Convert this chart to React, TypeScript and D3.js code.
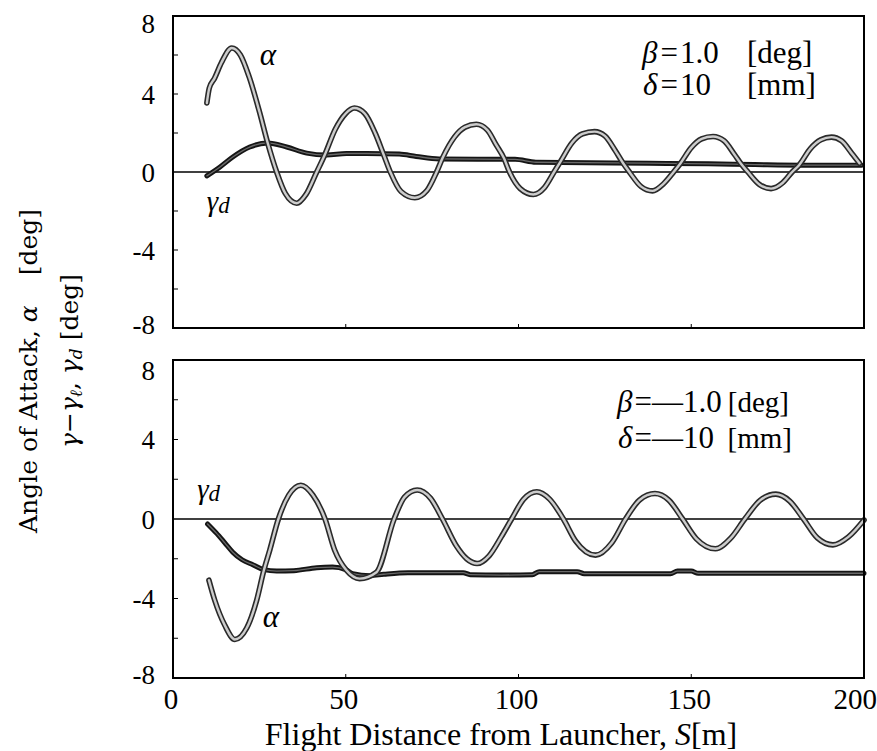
import React from "react";
import * as d3 from "d3";

const xTicks = [0, 50, 100, 150, 200];
const yTicks = [-8, -4, 0, 4, 8];
const yMinor = [-6, -2, 2, 6];
const xMinor = [50, 100, 150];

// top panel: beta = 1.0 deg, delta = 10 mm
const topAlpha: [number, number][] = [
  [9.8, 3.54], [10.5, 4.3], [12, 4.8], [14, 5.6], [17, 6.36], [19.5, 6.0], [22, 4.9], [25, 3.1],
  [27.4, 1.49], [30, 0], [32.5, -1.1], [35.8, -1.6], [38.5, -1.15], [41.6, 0], [43.9, 0.87],
  [47, 2.2], [50, 3.0], [52.5, 3.28], [55.5, 3.0], [58.5, 2.0], [60.9, 0.92], [62.9, 0],
  [66, -1.0], [70, -1.32], [73.5, -0.95], [76.3, 0], [78.1, 0.75], [81.5, 1.8], [84.5, 2.3],
  [87.8, 2.45], [91, 2.15], [93.5, 1.4], [95.8, 0.7], [97.4, 0], [100.5, -0.85], [104.3, -1.15],
  [107.5, -0.8], [110.3, 0], [112.2, 0.55], [115.5, 1.5], [118.5, 1.95], [122, 2.07], [125, 1.85],
  [128, 1.1], [130.1, 0.5], [132.1, 0], [135.5, -0.75], [138.8, -0.97], [142, -0.6], [144.9, 0],
  [146.9, 0.45], [150, 1.25], [153, 1.7], [156.3, 1.82], [159.5, 1.6], [162.5, 0.9], [164.4, 0.42],
  [166.4, 0], [169.8, -0.65], [173.1, -0.85], [176.5, -0.55], [179.2, 0], [181.2, 0.35],
  [184.5, 1.2], [187.5, 1.65], [190.6, 1.79], [193.5, 1.6], [196.5, 0.95], [198.7, 0.45],
];
const topGamma: [number, number][] = [
  [9.8, -0.2], [13.6, 0.26], [17.3, 0.77], [22.2, 1.28], [27.4, 1.49], [32.9, 1.28], [38.7, 0.97],
  [44.4, 0.87], [50.2, 0.95], [56, 0.95], [65.5, 0.92], [70.4, 0.8], [77, 0.67], [99, 0.65],
  [105, 0.5], [137.7, 0.45], [155, 0.42], [168.4, 0.38], [181.9, 0.35], [199.3, 0.35],
];

// bottom panel: beta = -1.0 deg, delta = -10 mm
const botAlpha: [number, number][] = [
  [10.4, -3.08], [12.1, -4.1], [15, -5.35], [17.9, -6.06], [21.3, -5.5], [24.2, -4.1], [26.3, -2.58],
  [28, -1.57], [30.5, 0], [33.5, 1.2], [37, 1.7], [40.5, 1.2], [44, 0], [46.8, -1.57], [50.2, -2.58],
  [54, -3.0], [58.9, -2.68], [64, 0], [67, 1.1], [70.7, 1.46], [74.5, 1.05], [78, 0], [82, -1.35],
  [85, -2.0], [88, -2.24], [91.5, -1.85], [95, -0.9], [98, 0], [101.5, 1.0], [105.3, 1.37],
  [109, 1.0], [113, 0], [116.5, -1.1], [122.3, -1.82], [127, -1.2], [131, 0], [135, 0.95],
  [139.5, 1.28], [143.5, 0.95], [147.5, 0], [151.5, -1.0], [157, -1.5], [161.5, -0.95], [165.5, 0],
  [170, 0.95], [174.5, 1.25], [178.5, 0.9], [182.5, 0], [186.5, -0.95], [191, -1.3], [195.5, -0.9],
  [200, -0.05],
];
const botGamma: [number, number][] = [
  [10, -0.25], [12.5, -0.7], [15, -1.2], [17.3, -1.67], [20, -2.05], [23.1, -2.3], [26.3, -2.55],
  [30, -2.62], [35, -2.6], [41.6, -2.45], [46.2, -2.42], [50, -2.55], [52, -2.75], [57, -2.85],
  [61, -2.78], [68, -2.7], [76, -2.7], [84, -2.7], [86, -2.8], [95, -2.82], [104, -2.8],
  [106, -2.65], [117, -2.65], [119, -2.75], [135, -2.75], [144, -2.75], [146, -2.62], [150, -2.62],
  [152, -2.73], [200, -2.73],
];

const W = 877;
const H = 751;
const X0 = 173;
const X1 = 864;
const SERIF = "Liberation Serif, Tinos, Times, DejaVu Serif";
const TITLE_FONT = "DejaVu Serif";

const x = d3.scaleLinear().domain([0, 200]).range([X0, X1]);

type PanelProps = {
  top: number;
  bottom: number;
  alpha: [number, number][];
  gamma: [number, number][];
  alphaLabel: [number, number];
  gammaLabel: [number, number];
  labelInset: number;
  children?: React.ReactNode;
};

function Panel({ top, bottom, alpha, gamma, alphaLabel, gammaLabel, labelInset, children }: PanelProps) {
  const y = d3.scaleLinear().domain([-8, 8]).range([bottom, top]);
  const line = d3
    .line<[number, number]>()
    .x((d) => x(d[0]))
    .y((d) => y(d[1]))
    .curve(d3.curveMonotoneX);
  const aPath = line(alpha) || "";
  const gPath = line(gamma) || "";
  return (
    <g>
      {[...yMinor, -4, 4].map((v) => (
        <line key={"yt" + v} x1={X0} x2={X0 + 5} y1={y(v)} y2={y(v)} stroke="#000" strokeWidth={1} />
      ))}
      {xMinor.map((v) => (
        <line key={"xt" + v} x1={x(v)} x2={x(v)} y1={bottom} y2={bottom - 4} stroke="#000" strokeWidth={1} />
      ))}
      <line x1={X0} x2={X1} y1={y(0)} y2={y(0)} stroke="#000" strokeWidth={1.4} />
      <path d={gPath} fill="none" stroke="#151515" strokeWidth={5} strokeLinejoin="round" strokeLinecap="round" />
      <path d={gPath} fill="none" stroke="#6a6a6a" strokeWidth={1.3} strokeLinejoin="round" strokeLinecap="round" />
      <path d={aPath} fill="none" stroke="#2a2a2a" strokeWidth={5.6} strokeLinejoin="round" strokeLinecap="round" />
      <path d={aPath} fill="none" stroke="#cccccc" strokeWidth={2.4} strokeLinejoin="round" strokeLinecap="round" />
      <rect x={X0} y={top} width={X1 - X0} height={bottom - top} fill="none" stroke="#000" strokeWidth={2} />
      {yTicks.map((v) => {
        const py = Math.min(Math.max(y(v), top + labelInset), bottom - 4);
        return (
          <text key={"yl" + v} x={155} y={py} dy="0.36em" textAnchor="end" style={{ fontFamily: SERIF, fontSize: 27 }}>
            {v}
          </text>
        );
      })}
      <text x={x(alphaLabel[0])} y={y(alphaLabel[1])} style={{ fontFamily: SERIF, fontSize: 31, fontStyle: "italic" }}>
        α
      </text>
      <text x={x(gammaLabel[0])} y={y(gammaLabel[1])} style={{ fontFamily: SERIF, fontSize: 29, fontStyle: "italic" }}>
        γ<tspan style={{ fontSize: 23 }} dy={2}>d</tspan>
      </text>
      {children}
    </g>
  );
}

export default function App() {
  const legendStyle = { fontFamily: SERIF, fontSize: 31 };
  const it = { fontStyle: "italic" as const };
  return (
    <svg
      width={W}
      height={H}
      viewBox={`0 0 ${W} ${H}`}
      style={{ position: "absolute", left: 0, top: 0, background: "#fff" }}
    >
      <rect x={0} y={0} width={W} height={H} fill="#fff" />
      <Panel top={16} bottom={328} alpha={topAlpha} gamma={topGamma} alphaLabel={[25.1, 5.5]} gammaLabel={[9.8, -2.0]} labelInset={7}>
        <g style={legendStyle}>
          <text x={642} y={63}>
            <tspan style={it}>β</tspan>
            <tspan dx={3}>=</tspan>
            <tspan dx={2}>1.0</tspan>
          </text>
          <text x={747} y={63}>[deg]</text>
          <text x={643} y={95}>
            <tspan style={it}>δ</tspan>
            <tspan dx={3}>=</tspan>
            <tspan dx={2}>10</tspan>
          </text>
          <text x={747} y={95}>[mm]</text>
        </g>
      </Panel>
      <Panel top={360} bottom={678} alpha={botAlpha} gamma={botGamma} alphaLabel={[26, -5.45]} gammaLabel={[7, 1.0]} labelInset={10}>
        <g style={legendStyle}>
          <text x={617} y={412}>
            <tspan style={it}>β</tspan>
            <tspan dx={2}>=—1.0</tspan>
          </text>
          <text x={789} y={412} textAnchor="end" style={{ fontSize: 29 }}>[deg]</text>
          <text x={618} y={448}>
            <tspan style={it}>δ</tspan>
            <tspan dx={2}>=—10</tspan>
          </text>
          <text x={792} y={448} textAnchor="end" style={{ fontSize: 29 }}>[mm]</text>
        </g>
      </Panel>
      {xTicks.map((v, i) => (
        <text
          key={"xl" + v}
          x={i === xTicks.length - 1 ? W : x(v) - 2}
          y={709}
          textAnchor={i === xTicks.length - 1 ? "end" : "middle"}
          style={{ fontFamily: SERIF, fontSize: 29 }}
        >
          {v}
        </text>
      ))}
      <text x={501} y={745} textAnchor="middle" style={{ fontFamily: SERIF, fontSize: 32 }}>
        Flight Distance from Launcher, <tspan style={it}>S</tspan>[m]
      </text>
      <text transform="translate(37,533) rotate(-90)" style={{ fontFamily: TITLE_FONT, fontSize: 25 }}>
        Angle of Attack, <tspan style={it}>α</tspan>
        <tspan dx={30}>[deg]</tspan>
      </text>
      <text transform="translate(78,448) rotate(-90)" style={{ fontFamily: TITLE_FONT, fontSize: 25 }}>
        <tspan style={it}>γ</tspan>−<tspan style={it}>γ</tspan>
        <tspan style={{ fontSize: 17, fontStyle: "italic" }} dy={4}>ℓ</tspan>
        <tspan dy={-4}>, </tspan>
        <tspan style={it}>γ</tspan>
        <tspan style={{ fontSize: 17, fontStyle: "italic" }} dy={4}>d</tspan>
        <tspan dy={-4}> [deg]</tspan>
      </text>
    </svg>
  );
}
